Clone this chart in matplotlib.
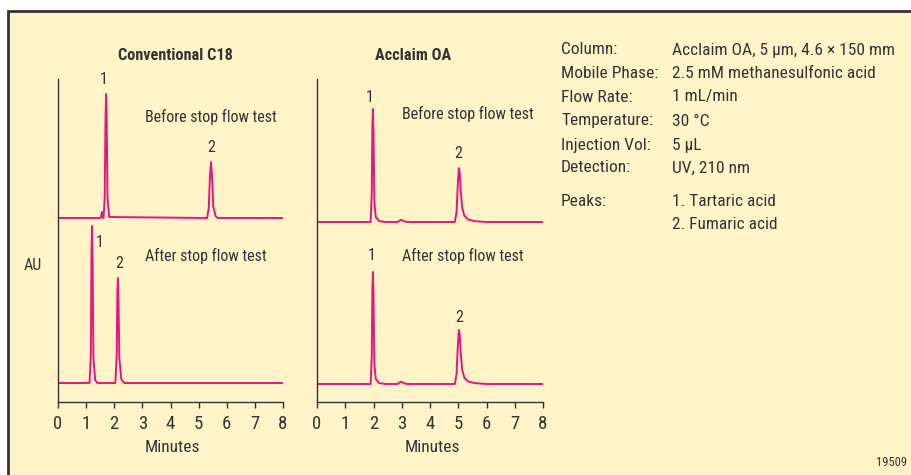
import matplotlib
matplotlib.use("Agg")
import matplotlib.pyplot as plt
from matplotlib.patches import Rectangle

plt.rcParams['font.family'] = ['Liberation Sans Narrow', 'Roboto Condensed', 'DejaVu Sans']

W, H = 911, 475
BG = '#FFF4C8'
INK = '#333333'
TRACE = '#E8157E'

# ---------------- data (minutes, signal in AU above baseline) ----------------
c18_before_t = [0, 1.48, 1.53, 1.56, 1.59, 1.62, 1.66, 1.69, 1.71, 1.73, 1.76, 1.82,
                5.30, 5.36, 5.40, 5.44, 5.48, 5.52, 5.60, 5.68, 8]
c18_before_y = [0, 0, 1, 6, 1, 0, 20, 100, 124, 100, 20, 1,
                0, 10, 40, 56, 40, 12, 2, 0, 0]

c18_after_t = [0, 1.12, 1.17, 1.19, 1.21, 1.23, 1.26, 1.32, 1.40,
               2.04, 2.09, 2.11, 2.13, 2.15, 2.18, 2.25, 2.35, 8]
c18_after_y = [0, 0, 30, 130, 157, 120, 25, 3, 0,
               0, 30, 90, 105, 85, 25, 4, 0, 0]

oa_before_t = [0, 1.90, 1.94, 1.96, 1.98, 2.00, 2.03, 2.08, 2.20, 2.40,
               2.85, 2.95, 3.00, 3.10, 3.20,
               4.88, 4.94, 4.98, 5.02, 5.05, 5.09, 5.14, 5.22, 5.35, 5.60, 6.00, 8]
oa_before_y = [0, 0, 30, 95, 113, 90, 20, 5, 1, 0,
               0, 2, 2, 0.5, 0,
               0, 10, 35, 54, 50, 30, 14, 6, 2.5, 0.8, 0, 0]

oa_after_t = [0, 1.90, 1.94, 1.96, 1.98, 2.00, 2.03, 2.08, 2.20, 2.40,
              2.85, 2.95, 3.00, 3.10, 3.20,
              4.88, 4.94, 4.98, 5.02, 5.05, 5.09, 5.14, 5.22, 5.35, 5.60, 6.00, 8]
oa_after_y = [0, 0, 30, 94, 112, 89, 20, 5, 1, 0,
              0, 2, 2, 0.5, 0,
              0, 10, 35, 54, 50, 30, 14, 6, 2.5, 0.8, 0, 0]

x_ticks = [0, 1, 2, 3, 4, 5, 6, 7, 8]
panel_titles = ['Conventional C18', 'Acclaim OA']
cond_labels = ['Column:', 'Mobile Phase:', 'Flow Rate:', 'Temperature:',
               'Injection Vol:', 'Detection:']
cond_values = ['Acclaim OA, 5 \u03bcm, 4.6 \u00d7 150 mm', '2.5 mM methanesulfonic acid',
               '1 mL/min', '30 \u00b0C', '5 \u03bcL', 'UV, 210 nm']
peak_names = ['1. Tartaric acid', '2. Fumaric acid']

# ---------------- figure ----------------
fig = plt.figure(figsize=(W / 100, H / 100), dpi=100, facecolor='white')
fig.patches.append(Rectangle((8 / W, -0.05), 1.1, (H - 11) / H + 0.05,
                             transform=fig.transFigure, facecolor=BG,
                             edgecolor=INK, linewidth=2.0, zorder=-10))

def fx(px):
    return px / W

def fy(py):
    return 1 - py / H

def txt(px, py, s, **kw):
    kw.setdefault('fontsize', 12.5)
    kw.setdefault('color', INK)
    fig.text(fx(px), fy(py), s, **kw)

ax_top, ax_bot = 79, 402
panels = [
    dict(x0=58, x1=283, traces=[(c18_before_t, c18_before_y, 184), (c18_after_t, c18_after_y, 19)]),
    dict(x0=317, x1=543, traces=[(oa_before_t, oa_before_y, 180), (oa_after_t, oa_after_y, 18)]),
]
for p in panels:
    ax = fig.add_axes([fx(p['x0']), fy(ax_bot), (p['x1'] - p['x0']) / W, (ax_bot - ax_top) / H],
                      zorder=2)
    ax.set_facecolor('none')
    for t, y, off in p['traces']:
        ax.plot(t, [v + off for v in y], color=TRACE, lw=1.4, solid_joinstyle='round')
    ax.set_xlim(0, 8)
    ax.set_ylim(0, ax_bot - ax_top)
    ax.set_xticks(x_ticks)
    ax.set_xticklabels([str(v) for v in x_ticks])
    ax.set_yticks([])
    for s in ['top', 'right']:
        ax.spines[s].set_visible(False)
    for s in ['left', 'bottom']:
        ax.spines[s].set_color(INK)
        ax.spines[s].set_linewidth(1.0)
    ax.tick_params(axis='x', direction='out', length=4.5, width=1.0, color=INK,
                   labelsize=13.5, labelcolor=INK, pad=5)

# panel titles
txt(175, 55, panel_titles[0], ha='center', va='center', fontsize=11.7, fontweight='bold')
txt(413, 55, panel_titles[1], ha='center', va='center', fontsize=11.7, fontweight='bold')

# peak labels and annotations
A = 11.5
txt(104, 80, '1', ha='center', va='center', fontsize=A)
txt(211, 148, '2', ha='center', va='center', fontsize=A)
txt(145, 117, 'Before stop flow test', ha='left', va='center', fontsize=A)
txt(100, 243, '1', ha='center', va='center', fontsize=A)
txt(119, 263, '2', ha='center', va='center', fontsize=A)
txt(145, 256, 'After stop flow test', ha='left', va='center', fontsize=A)

txt(370, 97, '1', ha='center', va='center', fontsize=A)
txt(458, 154, '2', ha='center', va='center', fontsize=A)
txt(402, 114, 'Before stop flow test', ha='left', va='center', fontsize=A)
txt(372, 255, '1', ha='center', va='center', fontsize=A)
txt(459, 318, '2', ha='center', va='center', fontsize=A)
txt(402, 256, 'After stop flow test', ha='left', va='center', fontsize=A)

txt(33, 265, 'AU', ha='center', va='center', fontsize=A)
txt(172, 447, 'Minutes', ha='center', va='center')
txt(432, 447, 'Minutes', ha='center', va='center')

# conditions
row_y = [50, 73, 97, 121, 145, 168]
for yy, lab, val in zip(row_y, cond_labels, cond_values):
    txt(561, yy, lab, ha='left', va='center')
    txt(672, yy, val, ha='left', va='center')
txt(561, 202, 'Peaks:', ha='left', va='center')
for yy, nm in zip([202, 225], peak_names):
    txt(672, yy, nm, ha='left', va='center')

txt(907, 462, '19509', ha='right', va='center', fontsize=9)

fig.savefig('out.png', dpi=100, facecolor=fig.get_facecolor())
